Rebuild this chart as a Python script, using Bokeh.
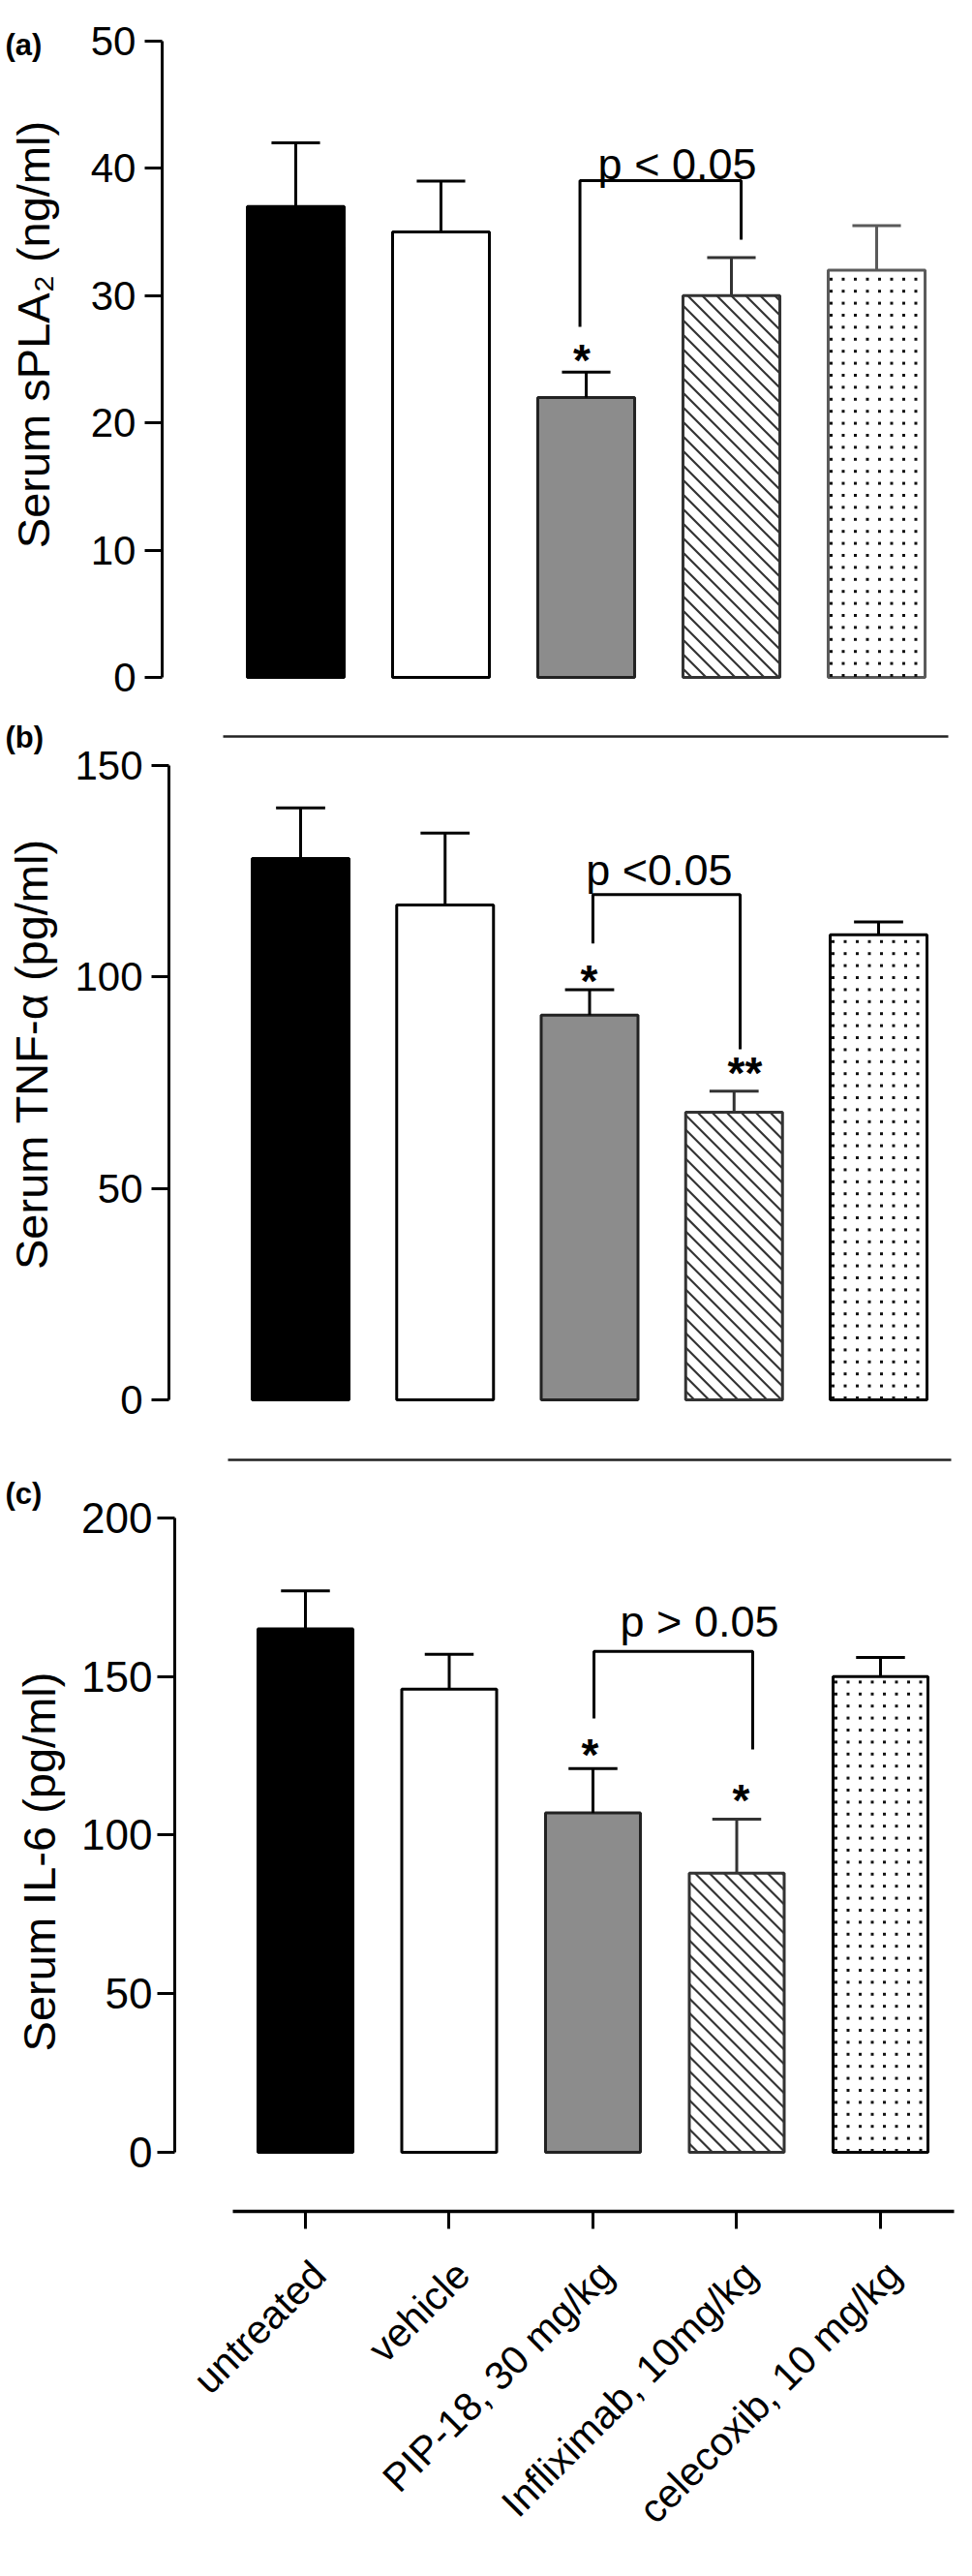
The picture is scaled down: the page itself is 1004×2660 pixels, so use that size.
import math
from bokeh.plotting import figure
from bokeh.models import Range1d, FixedTicker, ColumnDataSource
from bokeh.layouts import column
from bokeh.embed import file_html
from bokeh.resources import INLINE
from bokeh.core.properties import value

# ---------------- data ----------------
categories = ["untreated", "vehicle", "PIP-18, 30 mg/kg", "Infliximab, 10mg/kg", "celecoxib, 10 mg/kg"]

spla2_mean = [37, 35, 22, 30, 32]
spla2_sem = [5, 4, 2, 3, 3.5]

tnf_mean = [128, 117, 91, 68, 110]
tnf_sem = [12, 17, 6, 5, 3]

il6_mean = [165, 146, 107, 88, 150]
il6_sem = [12, 11, 14, 17, 6]

spla2_ticks = [0, 10, 20, 30, 40, 50]
tnf_ticks = [0, 50, 100, 150]
il6_ticks = [0, 50, 100, 150, 200]

# ---------------- styles ----------------
FONT = "Liberation Sans"
fills = ["black", "white", "#8c8c8c", "white", "white"]
HATCH_BAR = 3      # index of the diagonally hatched bar
DOT_BAR = 4        # index of the dotted bar
HATCH_STEP = 15.0  # px between hatch lines (horizontal)
DOT_STEP_X = 12.5  # px between dots
DOT_STEP_Y = 12.4


def hatch_texture(p, xc, top, bw, xpx, ypx):
    """diagonal '\\' lines clipped to the bar rectangle (computed from the bar)."""
    W = bw * xpx
    H = top * ypx
    left = xc - bw / 2
    x0s, y0s, x1s, y1s = [], [], [], []
    k = HATCH_STEP * 0.6
    while k < W + H:
        u1, u2 = max(0.0, k - H), min(W, k)
        if u2 > u1:
            x0s.append(left + u1 / xpx)
            y0s.append((k - u1) / ypx)
            x1s.append(left + u2 / xpx)
            y1s.append((k - u2) / ypx)
        k += HATCH_STEP
    p.segment(x0=x0s, y0=y0s, x1=x1s, y1=y1s, line_color="#333333", line_width=2.2)


def dot_texture(p, xc, top, bw, xpx, ypx):
    W = bw * xpx
    H = top * ypx
    left = xc - bw / 2
    xs, ys = [], []
    u = 3.0
    while u < W - 1:
        v = 2.0
        while v < H - 3:
            xs.append(left + u / xpx)
            ys.append(v / ypx)
            v += DOT_STEP_Y
        u += DOT_STEP_X
    p.scatter(x=xs, y=ys, marker="square", size=3, fill_color="#111111", line_color=None)


def make_panel(means, sems, ticks, ylabel, cfg, bottom_axis=False):
    xs = list(range(len(means)))
    p = figure(width=988, height=cfg["height"], title=None,
               x_range=Range1d(*cfg["xr"]), y_range=Range1d(*cfg["yr"]),
               output_backend="svg", toolbar_location=None,
               x_axis_location="below" if bottom_axis else None,
               y_axis_location="left",
               min_border=0)
    p.outline_line_color = None
    p.grid.visible = False
    p.background_fill_color = "white"
    p.border_fill_color = "white"

    ya = p.yaxis[0]
    ya.fixed_location = cfg["yaxis_x"]
    ya.ticker = FixedTicker(ticks=ticks)
    ya.bounds = (ticks[0], ticks[-1])
    ya.axis_line_width = 3
    ya.axis_line_color = "black"
    ya.major_tick_line_width = 3
    ya.major_tick_line_color = "black"
    ya.major_tick_out = 18
    ya.major_tick_in = 0
    ya.minor_tick_line_color = None
    ya.major_label_standoff = cfg["tick_standoff"]
    ya.major_label_text_font = FONT
    ya.major_label_text_font_size = cfg["tick_fs"]
    ya.major_label_text_color = "black"

    # y-axis title
    lx, ly = cfg["ylabel_pos"]
    p.text(x=[lx], y=[ly], text=[ylabel], angle=math.pi / 2, text_font=value(FONT),
           text_font_size=value("47px"), text_align="center", text_baseline="middle",
           text_color="black")

    if bottom_axis:
        xa = p.xaxis[0]
        xa.fixed_location = cfg["xaxis_y"]
        xa.ticker = FixedTicker(ticks=xs)
        xa.bounds = cfg["xbounds"]
        xa.axis_line_width = 3.5
        xa.axis_line_color = "black"
        xa.major_tick_line_width = 3
        xa.major_tick_line_color = "black"
        xa.major_tick_out = 18
        xa.major_tick_in = 0
        xa.minor_tick_line_color = None
        xa.major_label_text_font_size = "0px"
        xa.major_label_text_color = None
        # rotated category names, ending just right of each tick
        cdx, cy = cfg["cat_pos"]
        p.text(x=[x + cdx for x in xs], y=[cy] * len(xs), text=categories, angle=math.pi / 4,
               text_font=value(FONT), text_font_size=value("41px"), text_align="right",
               text_baseline="top", text_color="black")

    line_colors = ["black", "black", "#222222", "#333333", cfg["cel_line"]]
    src = ColumnDataSource(dict(x=xs, top=means, fill=fills, line=line_colors))
    p.vbar(x="x", top="top", bottom=0, width=cfg["bw"], source=src,
           fill_color="fill", line_color="line", line_width=3)

    xpx, ypx = cfg["px"]
    hatch_texture(p, xs[HATCH_BAR], means[HATCH_BAR], cfg["bw"], xpx, ypx)
    dot_texture(p, xs[DOT_BAR], means[DOT_BAR], cfg["bw"], xpx, ypx)

    # error bars (upper only)
    ups = [m + s for m, s in zip(means, sems)]
    half = cfg["cap"]
    esrc = ColumnDataSource(dict(
        x=xs, lo=means, hi=ups, xl=[x - half for x in xs], xr=[x + half for x in xs],
        c=["black", "black", "black", "#333333", cfg["cel_line"]],
    ))
    p.segment(x0="x", y0="lo", x1="x", y1="hi", source=esrc, line_color="c", line_width=3)
    p.segment(x0="xl", y0="hi", x1="xr", y1="hi", source=esrc, line_color="c", line_width=3)

    # comparison bracket
    bl, br, btop, bly, bry = cfg["bracket"]
    p.line(x=[bl, bl, br, br], y=[bly, btop, btop, bry], line_color="black", line_width=3)
    tx, ty, ttext = cfg["ptext"]
    p.text(x=[tx], y=[ty], text=[ttext], text_font=value(FONT), text_font_size=value("45px"),
           text_align="center", text_baseline="alphabetic", text_color="black")

    # significance stars
    sx, sy, st = cfg["stars"]
    p.text(x=sx, y=sy, text=st, text_font=value(FONT), text_font_size=value("46px"),
           text_font_style="bold", text_align="center", text_baseline="alphabetic",
           text_color="black")

    # separator line
    if cfg.get("sep"):
        sx0, sx1, sy0 = cfg["sep"]
        p.segment(x0=[sx0], y0=[sy0], x1=[sx1], y1=[sy0], line_color="#222222", line_width=2.5)

    # panel letter
    px_, py_, ptxt = cfg["panel"]
    p.text(x=[px_], y=[py_], text=[ptxt], text_font=value(FONT), text_font_size=value("31px"),
           text_font_style="bold", text_align="left", text_baseline="alphabetic",
           text_color="black")
    return p


# panel (a): 0 at page y 699, 13.14 px/unit; x=0 at page x 313, 150 px/unit
cfg_a = dict(
    height=730, px=(150.0, 13.14),
    xr=(-2.0333, 4.5533), yr=(-2.359, 53.196),
    yaxis_x=-0.92, ylabel_pos=(-1.807, 26.94),
    tick_fs="42px", tick_standoff=9,
    bw=0.667, cap=0.167, cel_line="#5a5a5a",
    bracket=(1.957, 3.067, 39.04, 27.55, 34.4),
    ptext=(2.627, 40.35, "p < 0.05"),
    stars=([1.97], [24.89], ["*"]),
    sep=None,
    panel=(-2.0, 49.7, "(a)"),
)

# panel (b): 0 at page y 1445, 4.3667 px/unit; x=0 at 318, 149.25 px/unit
cfg_b = dict(
    height=750, px=(149.25, 4.3667),
    xr=(-2.0771, 4.5427), yr=(-8.015, 163.74),
    yaxis_x=-0.9112, ylabel_pos=(-1.8626, 81.75),
    tick_fs="42px", tick_standoff=9,
    bw=0.67, cap=0.17, cel_line="black",
    bracket=(2.023, 3.042, 119.5, 107.9, 82.9),
    ptext=(2.482, 125.3, "p <0.05"),
    stars=([1.997, 3.075], [99.16, 77.4], ["*", "**"]),
    sep=(-0.536, 4.4824, 156.87),
    panel=(-2.0436, 156.64, "(b)"),
)

# panel (c): 0 at page y 2222, 3.275 px/unit; x=0 at 323, 148.5 px/unit
cfg_c = dict(
    height=1172, px=(148.5, 3.275),
    xr=(-2.1212, 4.5320), yr=(-131.30, 226.56),
    yaxis_x=-0.9091, ylabel_pos=(-1.8519, 91.6),
    xaxis_y=-18.63, xbounds=(-0.505, 4.51), cat_pos=(-0.015, -31.5),
    tick_fs="44px", tick_standoff=5,
    bw=0.66, cap=0.17, cel_line="black",
    bracket=(2.007, 3.111, 157.9, 136.8, 127.0),
    ptext=(2.741, 167.2, "p > 0.05"),
    stars=([1.98, 3.03], [125.2, 111.1], ["*", "*"]),
    sep=(-0.5387, 4.4916, 218.32),
    panel=(-2.0875, 207.63, "(c)"),
)

pa = make_panel(spla2_mean, spla2_sem, spla2_ticks, "Serum sPLA\u2082 (ng/ml)", cfg_a)
pb = make_panel(tnf_mean, tnf_sem, tnf_ticks, "Serum TNF-\u03b1 (pg/ml)", cfg_b)
pc = make_panel(il6_mean, il6_sem, il6_ticks, "Serum IL-6 (pg/ml)", cfg_c, bottom_axis=True)

layout = column(pa, pb, pc, spacing=0)
open("out.html", "w").write(file_html(layout, INLINE))
